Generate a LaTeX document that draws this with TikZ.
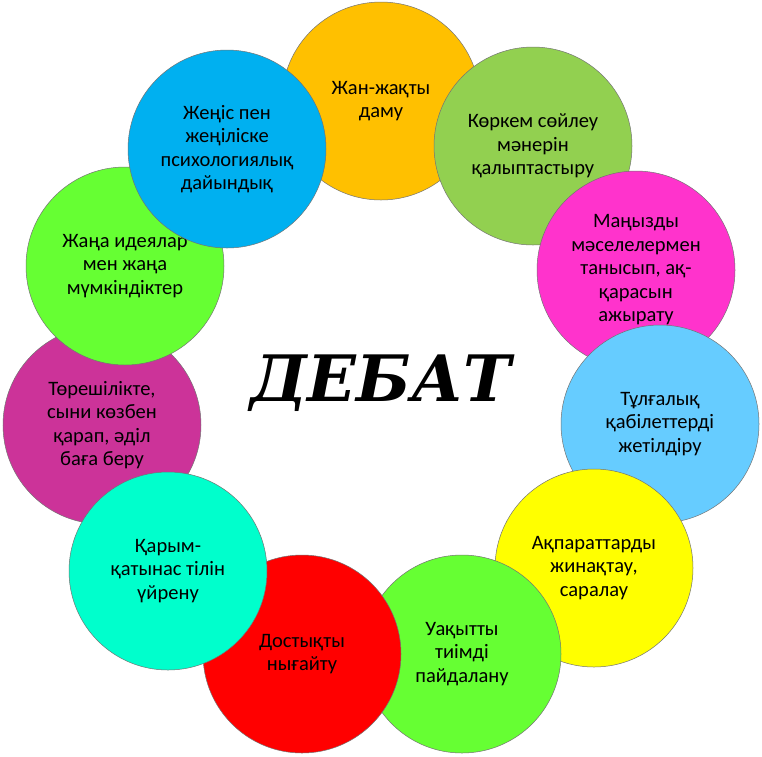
\documentclass[tikz,border=0pt]{standalone}
\usepackage{fontspec}
\setmainfont{Carlito}
\newfontfamily\titlefont{DejaVu Serif}

\definecolor{cOrange}{HTML}{FFC000}
\definecolor{cGreen}{HTML}{92D050}
\definecolor{cMagenta}{HTML}{FF33CC}
\definecolor{cSky}{HTML}{66CCFF}
\definecolor{cYellow}{HTML}{FFFF00}
\definecolor{cLime}{HTML}{66FF33}
\definecolor{cRed}{HTML}{FF0000}
\definecolor{cAqua}{HTML}{00FFCC}
\definecolor{cPlum}{HTML}{CC3399}
\definecolor{cBlue}{HTML}{00B0F0}

\tikzset{
    bubble/.style={circle, draw=black!55, line width=0.5pt, minimum size=198pt,
        inner sep=0pt, align=center, text=black,
        font=\fontsize{20.5}{23.5}\selectfont},
}

\begin{document}
\begin{tikzpicture}[x=1pt, y=-1pt]
    \useasboundingbox (0,0) rectangle (762,756);

        \node[bubble, fill=cOrange] (dev) at (381,101) {Жан-жақты\\даму};
        \node[bubble, fill=cGreen] (speech) at (533,146)
            {Көркем сөйлеу\\мәнерін\\қалыптастыру};
        \node[bubble, fill=cMagenta] (issues) at (636,270)
            {Маңызды\\мәселелермен\\танысып, ақ-\\қарасын\\ажырату};
        \node[bubble, fill=cSky] (skills) at (660,424)
            {Тұлғалық\\қабілеттерді\\жетілдіру};
        \node[bubble, fill=cYellow] (info) at (594,568)
            {Ақпараттарды\\жинақтау,\\саралау};

        \node[bubble, fill=cLime] (time) at (462,654)
            {Уақытты\\тиімді\\пайдалану};
        \node[bubble, fill=cRed] (friend) at (302,654)
            {Достықты\\нығайту};
        \node[bubble, fill=cPlum] (judge) at (102,425)
            {Төрешілікте,\\сыни көзбен\\қарап, әділ\\баға беру};
        \node[bubble, fill=cAqua] (talk) at (168,571)
            {Қарым-\\қатынас тілін\\үйрену};


        \node[bubble, fill=cLime] (ideas) at (125,266)
            {Жаңа идеялар\\мен жаңа\\мүмкіндіктер};
        \node[bubble, fill=cBlue] (win) at (227,149)
            {Жеңіс пен\\жеңіліске\\психологиялық\\дайындық};

        \node[font=\titlefont\bfseries\itshape\fontsize{64}{70}\selectfont] (title)
            at (381,383) {ДЕБАТ};
    \end{tikzpicture}
\end{document}
